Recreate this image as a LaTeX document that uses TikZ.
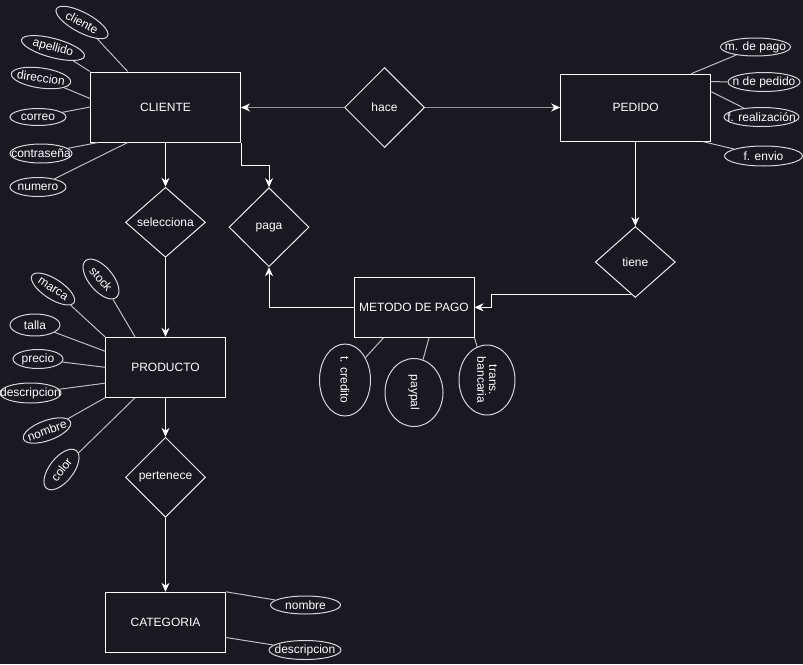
\documentclass[tikz,border=0pt]{standalone}
\usepackage{fontspec}
\setmainfont{Liberation Sans}
\usetikzlibrary{shapes.geometric,arrows.meta,calc}
\definecolor{bgdark}{RGB}{26,24,32}
\definecolor{linegray}{RGB}{190,190,190}
\definecolor{edgegray}{RGB}{150,150,150}
\definecolor{ovalgray}{RGB}{215,215,215}
\newcommand{\attrtxt}[1]{\makebox[0pt][c]{#1}}
\begin{document}
\begin{tikzpicture}[x=1pt,y=-1pt,
  font=\fontsize{12}{14}\selectfont,
  every node/.style={text=white},
  entity/.style={draw=white,line width=1pt,fill=bgdark,rectangle,inner sep=0pt,
    minimum width=120pt,minimum height=60pt},
  relation/.style={draw=white!85!gray,line width=1pt,fill=bgdark,diamond,inner sep=0pt,
    minimum width=80pt},
  attr/.style={draw=ovalgray,line width=1pt,fill=bgdark,ellipse,inner sep=0pt},
  attrline/.style={draw=linegray,line width=1pt},
  link/.style={draw=white,line width=1pt,-{Stealth[length=9pt,width=8pt,color=white]}},
]
% canvas
\fill[bgdark] (0,0) rectangle (803,664);
\useasboundingbox (0,0) rectangle (803,664);

% entities
\node[entity,minimum width=150pt,minimum height=70pt] (cliente) at (165.5,107) {CLIENTE};
\node[entity,minimum width=150pt,minimum height=67pt] (pedido) at (635.7,107.7) {PEDIDO};
\node[entity] (producto) at (165.5,367.3) {PRODUCTO};
\node[entity] (metodo) at (414,307.3) {METODO DE PAGO};
\node[entity] (categoria) at (165.5,622.3) {CATEGORIA};

% relationships
\node[relation,minimum height=80pt] (hace) at (384.5,107.5) {hace};
\node[relation,minimum height=70pt] (selecciona) at (165.5,222.3) {selecciona};
\node[relation,minimum height=79pt] (paga) at (269,227.2) {paga};
\node[relation,minimum height=71pt] (tiene) at (635.3,262) {tiene};
\node[relation,minimum height=80pt] (pertenece) at (165.5,477.3) {pertenece};

% attributes of CLIENTE
\node[attr,minimum width=58pt,minimum height=20pt,rotate=-28] (c1) at (82,22.5) {\attrtxt{cliente}};
\node[attr,minimum width=65pt,minimum height=19pt,rotate=-15] (c2) at (53,48) {\attrtxt{apellido}};
\node[attr,minimum width=60pt,minimum height=20pt,rotate=-8] (c3) at (41,78) {\attrtxt{direccion}};
\node[attr,minimum width=56pt,minimum height=17pt] (c4) at (38,117) {\attrtxt{correo}};
\node[attr,minimum width=62pt,minimum height=19pt] (c5) at (41,153.5) {\attrtxt{contraseña}};
\node[attr,minimum width=56pt,minimum height=19pt] (c6) at (38,187) {\attrtxt{numero}};

% attributes of PEDIDO
\node[attr,minimum width=70pt,minimum height=18pt] (p1) at (755.5,47) {\attrtxt{m. de pago}};
\node[attr,minimum width=72pt,minimum height=19pt] (p2) at (764,82) {\attrtxt{n de pedido}};
\node[attr,minimum width=75pt,minimum height=19pt] (p3) at (761.5,117) {\attrtxt{f. realización}};
\node[attr,minimum width=78pt,minimum height=20pt] (p4) at (763.5,156) {\attrtxt{f. envio}};

% attributes of PRODUCTO
\node[attr,minimum width=48pt,minimum height=24pt,rotate=-50] (r1) at (101,279) {\attrtxt{stock}};
\node[attr,minimum width=50pt,minimum height=20pt,rotate=-33] (r2) at (53,289) {\attrtxt{marca}};
\node[attr,minimum width=50pt,minimum height=22pt] (r3) at (35,325) {\attrtxt{talla}};
\node[attr,minimum width=50pt,minimum height=19pt] (r4) at (38,359) {\attrtxt{precio}};
\node[attr,minimum width=61pt,minimum height=20pt] (r5) at (30.5,393) {\attrtxt{descripcion}};
\node[attr,minimum width=50pt,minimum height=20pt,rotate=20] (r6) at (47,430.5) {\attrtxt{nombre}};
\node[attr,minimum width=48pt,minimum height=24pt,rotate=52] (r7) at (61.5,469.5) {\attrtxt{color}};

% attributes of METODO DE PAGO (upright ovals, text running downwards)
\node[attr,minimum width=72pt,minimum height=51pt,rotate=-90] (m1) at (345,380) {\attrtxt{t. credito}};
\node[attr,minimum width=68pt,minimum height=58pt,rotate=-90] (m2) at (414,392.5) {\attrtxt{paypal}};
\node[attr,minimum width=70pt,minimum height=56pt,rotate=-90,align=center] (m3) at (487,380)
  {\makebox[0pt][c]{\shortstack{trans.\\bancaria}}};

% attributes of CATEGORIA
\node[attr,minimum width=70pt,minimum height=18pt] (k1) at (305.5,605) {\attrtxt{nombre}};
\node[attr,minimum width=72pt,minimum height=19pt] (k2) at (305,650) {\attrtxt{descripcion}};

% attribute links
\draw[attrline] ($(cliente.north west)+(37.7,0)$) -- (c1);
\draw[attrline] (cliente.north west) -- (c2);
\draw[attrline] ($(cliente.north west)+(0,27)$) -- (c3);
\draw[attrline] (cliente.west) -- (c4);
\draw[attrline] ($(cliente.south west)+(8,0)$) -- (c5);
\draw[attrline] ($(cliente.south west)+(37.7,0)$) -- (c6);

\draw[attrline] ($(pedido.north east)+(-20,0)$) -- (p1);
\draw[attrline] ($(pedido.north east)+(0,8)$) -- (p2);
\draw[attrline] ($(pedido.north east)+(0,18)$) -- (p3);
\draw[attrline] ($(pedido.south east)+(-8,0)$) -- (p4);

\draw[attrline] ($(producto.north west)+(30,0)$) -- (r1);
\draw[attrline] (producto.north west) -- (r2);
\draw[attrline] ($(producto.north west)+(0,14.4)$) -- (r3);
\draw[attrline] (producto.west) -- (r4);
\draw[attrline] ($(producto.south west)+(0,-14.6)$) -- (r5);
\draw[attrline] (producto.south west) -- (r6);
\draw[attrline] ($(producto.south west)+(30,0)$) -- (r7);

\draw[attrline] ($(metodo.south west)+(30,0)$) -- (m1);
\draw[attrline] ($(metodo.south)+(15,0)$) -- (m2);
\draw[attrline] (metodo.south east) -- (m3);

\draw[attrline] (categoria.north east) -- (k1);
\draw[attrline] ($(categoria.south east)+(0,-15.3)$) -- (k2);

% relationship links
\draw[link,draw=edgegray] (hace.west) -- (hace.west -| cliente.east);
\draw[link,draw=edgegray] (hace.east) -- (hace.east -| pedido.west);
\draw[link] (cliente.south) -- (selecciona.north);
\draw[link] (selecciona.south) -- (producto.north);
\draw[link] (producto.south) -- (pertenece.north);
\draw[link] (pertenece.south) -- (categoria.north);
\draw[link] (pedido.south -| tiene.north) -- (tiene.north);
\draw[link] (cliente.south east) -- ++(0,23) -| (paga.north);
\draw[link] (metodo.west) -| (paga.south);
\coordinate (tieneout) at ($(tiene.south)!0.1!(tiene.west)$);
\coordinate (metodoin) at ($(metodo.east)+(17,0)$);
\draw[link] (tieneout) -| (metodoin) -- (metodo.east);
\end{tikzpicture}
\end{document}
